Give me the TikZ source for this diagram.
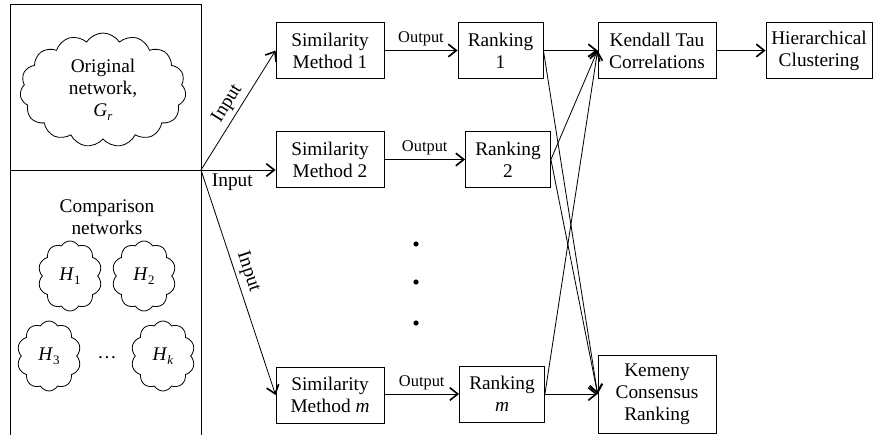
\documentclass[tikz,border=0pt]{standalone}
\usepackage{fontspec}
\setmainfont{Liberation Serif}
\usepackage{tikz}
\usetikzlibrary{shapes.symbols, arrows.meta}

\newcommand{\netsub}[2]{\textit{#1}\raisebox{-0.45ex}{\fontsize{11}{11}\selectfont #2}}

\tikzset{
  stagebox/.style={draw, line width=0.7pt, align=center, inner sep=2pt,
    minimum height=56*0.03cm},
  netcloud/.style={draw, line width=0.7pt, cloud, cloud puffs=15,
    cloud puff arc=115, cloud ignores aspect, align=center, inner sep=0pt},
  smallcloud/.style={netcloud, cloud puffs=10, cloud puff arc=120,
    minimum width=64*0.03cm, minimum height=70*0.03cm},
  arr/.style={line width=0.7pt,
    -{Straight Barb[length=2.4mm,width=3.8mm,line width=1.4pt]}},
  lbl/.style={font=\fontsize{14}{14}\selectfont},
}

\begin{document}
\begin{tikzpicture}[x=0.03cm, y=0.03cm,
    font=\fontsize{16.5}{18.7}\selectfont]
    \useasboundingbox (0,0) rectangle (873,434);

    % input networks
    \draw[line width=0.7pt] (10,-2) -- (10,430) -- (201,430) -- (201,-2);
    \draw[line width=0.7pt] (10,264) -- (201,264);
    \coordinate (J) at (201,264);

    \node[netcloud, minimum width=166*0.03cm, minimum height=114*0.03cm]
        (orig) at (103,344) {Original\\network,\\\netsub{G}{\textit{r}}};
    \node[align=center] (comp) at (107,217) {Comparison\\networks};
    \node[smallcloud] (h1) at (70,158) {\netsub{H}{1}};
    \node[smallcloud] (h2) at (144,158) {\netsub{H}{2}};
    \node[smallcloud] (h3) at (49,78) {\netsub{H}{3}};
    \node[smallcloud] (hk) at (163,78) {\netsub{H}{\textit{k}}};
    \node (hdots) at (107,76) {\dots};

    % similarity methods
    \node[stagebox, minimum width=108*0.03cm] (m1) at (330,383.5) {Similarity\\Method 1};
    \node[stagebox, minimum width=108*0.03cm] (m2) at (330,274.5) {Similarity\\Method 2};
    \node[stagebox, minimum width=108*0.03cm] (mm) at (330,39) {Similarity\\Method \textit{m}};

    % rankings
    \node[stagebox, minimum width=85*0.03cm] (r1) at (500.5,383.5) {Ranking\\1};
    \node[stagebox, minimum width=85*0.03cm] (r2) at (508,274.5) {Ranking\\2};
    \node[stagebox, minimum width=85*0.03cm] (rm) at (502,40) {Ranking\\\textit{m}};

    \fill (416,190) circle (2.6);
    \fill (416,152) circle (2.6);
    \fill (416,111) circle (2.6);

    % comparison of rankings
    \node[stagebox, minimum width=118*0.03cm] (ken) at (657,383.5) {Kendall Tau\\Correlations};
    \node[stagebox, minimum width=106*0.03cm] (hier) at (819,383.5) {Hierarchical\\Clustering};
    \node[stagebox, minimum width=118*0.03cm, minimum height=78*0.03cm]
        (kem) at (657,40) {Kemeny\\Consensus\\Ranking};

    \draw[arr] (J) -- node[sloped, above, pos=0.5] {Input} (m1.west);
    \draw[arr] (J) -- node[below, pos=0.42] {Input} (m2.west |- J);
    \draw[arr] (J) -- node[sloped, above, pos=0.47] {Input} (mm.west);

    \draw[arr] (m1) -- node[lbl, above] {Output} (r1);
    \draw[arr] (m2) -- node[lbl, above] {Output} (r2);
    \draw[arr] (mm.east |- rm) -- node[lbl, above] {Output} (rm);

    \draw[arr] (r1) -- (ken);
    \draw[arr] (r1.east) -- (kem.west);
    \draw[arr] (r2.east) -- (ken.west);
    \draw[arr] (r2.east) -- (kem.west);
    \draw[arr] (rm.east) -- (ken.west);
    \draw[arr] (rm) -- (kem);
    \draw[arr] (ken) -- (hier);
\end{tikzpicture}
\end{document}
